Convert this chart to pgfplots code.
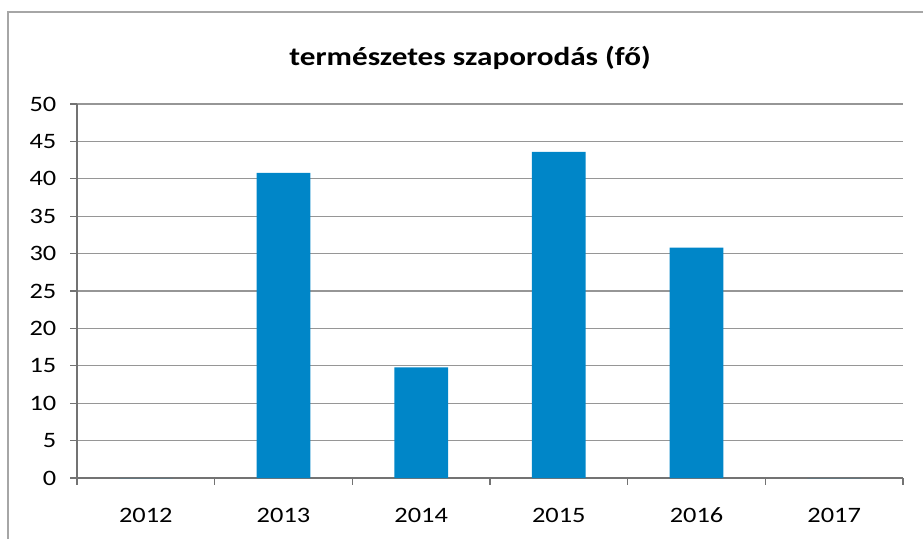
\documentclass[border=0pt]{standalone}
\usepackage{fontspec}
\setmainfont{Carlito}[FakeStretch=1.2]
\usepackage{pgfplots}
\pgfplotsset{compat=1.18}
\definecolor{barblue}{RGB}{0,134,200}
\definecolor{gridgray}{RGB}{150,150,150}
\definecolor{axisgray}{RGB}{115,115,115}

\begin{document}
\begin{tikzpicture}
\begin{axis}[
  width=619.5pt, height=280.5pt, scale only axis,
  xmin=-0.5, xmax=5.5, ymin=0, ymax=50,
  clip=false,
  axis x line*=bottom, axis y line*=left,
  axis line style={axisgray, line width=0.8pt, -},
  xtick={-0.5,0.5,...,5.5}, x tick label as interval,
  xticklabels={2012,2013,2014,2015,2016,2017},
  ytick={0,5,...,50},
  tick align=outside, major tick length=5pt,
  tick style={axisgray, line width=0.8pt},
  ymajorgrids, major grid style={gridgray, line width=0.8pt},
  tick label style={font=\fontsize{16.5}{19}\selectfont, text=black},
  /pgf/number format/assume math mode=true,
  yticklabel style={xshift=-7pt},
  xticklabel style={yshift=-14pt},
]
\addplot[ybar, bar width=0.39, fill=barblue, draw=none] coordinates {
  (0,0) (1,40.8) (2,14.8) (3,43.6) (4,30.8) (5,0)
};
\node[font=\bfseries\fontsize{19.5}{22}\selectfont, text=black]
  at (axis description cs:0.476,1.123) {természetes szaporodás (fő)};
\coordinate (bl) at (axis description cs:-0.0932,-0.1631);
\coordinate (tr) at (axis description cs:1.0242,1.2781);
\coordinate (fl) at (axis description cs:-0.0835,-0.1631);
\coordinate (ft) at (axis description cs:-0.0835,1.246);
\coordinate (fr) at (axis description cs:1.0242,1.246);
\end{axis}
\draw[gray!70, line width=0.9pt] (fl) -- (ft) -- (fr);
\pgfresetboundingbox
\path[use as bounding box] (bl) rectangle (tr);
\end{tikzpicture}
\end{document}
